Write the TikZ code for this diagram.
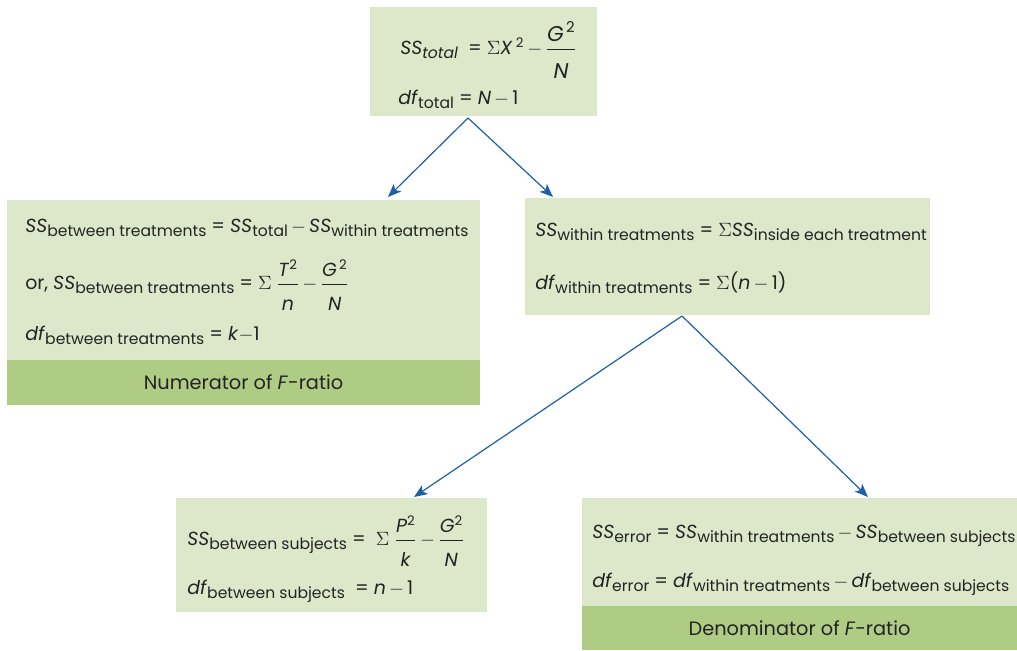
\documentclass[tikz,border=0pt]{standalone}
\usepackage{amsmath}
\usepackage{fontspec}
\setmainfont{Poppins}
\usetikzlibrary{arrows.meta}
\definecolor{lgreen}{RGB}{221,231,201}
\definecolor{dgreen}{RGB}{175,204,132}
\definecolor{arrblue}{RGB}{30,95,170}
\definecolor{txtc}{RGB}{35,35,35}
\newcommand{\sbs}[1]{\raisebox{-0.45ex}{\fontsize{11.7}{13}\selectfont #1}}
\newcommand{\iv}[1]{\textit{#1}}
\newcommand{\myfr}[2]{$\dfrac{\rule{0pt}{2.4ex}\text{#1}}{\rule{0pt}{2.3ex}\text{#2}}$}
\newcommand{\bigfr}[2]{$\dfrac{\rule{0pt}{2.6ex}\text{\fontsize{16}{18}\selectfont #1}}{\rule{0pt}{2.6ex}\text{\fontsize{16}{18}\selectfont #2}}$}
\newcommand{\msig}{$\Sigma$}
\newcommand{\mminus}{\,$-$\,}
\tikzset{
  box/.style={fill=lgreen, draw=none},
  band/.style={fill=dgreen, draw=none},
  txt/.style={anchor=base west, inner sep=0pt, text=txtc, font=\fontsize{14.2}{17}\selectfont},
  bandtxt/.style={anchor=center, inner sep=0pt, text=txtc, font=\fontsize{14.5}{17}\selectfont},
  arr/.style={draw=arrblue, line width=0.9pt, -{Stealth[length=10pt,width=8pt,inset=2.5pt]}}
}
\begin{document}
\begin{tikzpicture}[x=0.75pt,y=-0.75pt]
\useasboundingbox (0,0) rectangle (1017,650);
% boxes
\path[box] (370,7) rectangle (597,116) node[pos=0.5,inner sep=0] (top) {};
\path[box] (7,200) rectangle (480,360) node[pos=0.5,inner sep=0] (lbox) {};
\path[band] (7,360) rectangle (480,405) node[pos=0.5,inner sep=0] (lband) {};
\path[box] (525,198) rectangle (930,315) node[pos=0.5,inner sep=0] (rbox) {};
\path[box] (176,498) rectangle (487,612) node[pos=0.5,inner sep=0] (blbox) {};
\path[box] (582,498) rectangle (1017,606) node[pos=0.5,inner sep=0] (brbox) {};
\path[band] (582,606) rectangle (1017,650) node[pos=0.5,inner sep=0] (brband) {};
% top text
\node[txt] (t1) at (400,54) {\iv{SS}\sbs{\iv{total}}\ \ = \msig\iv{X}\,\textsuperscript{2}\mminus\bigfr{\iv{G}\textsuperscript{\,2}}{\iv{N}}};
\node[txt] (t2) at (398,104) {\iv{df}\sbs{total} = \iv{N}\mminus1};
% left text
\node[txt] (l1) at (25,232) {\iv{SS}\sbs{between treatments} = \iv{SS}\sbs{total}\mminus\iv{SS}\sbs{within treatments}};
\node[txt] (l2) at (25,289) {or, \iv{SS}\sbs{between treatments} = \msig\ \myfr{\iv{T}\textsuperscript{2}}{\iv{n}}\mminus\myfr{\iv{G}\textsuperscript{\,2}}{\iv{N}}};
\node[txt] (l3) at (25,340) {\iv{df}\sbs{between treatments} = \iv{k}$-$1};
\node[bandtxt] (l4) at (lband) {Numerator of \iv{F}-ratio};
% right text
\node[txt] (r1) at (535,236) {\iv{SS}\sbs{within treatments} = \msig\iv{SS}\sbs{inside each treatment}};
\node[txt] (r2) at (535,289) {\iv{df}\sbs{within treatments} = \msig(\iv{n}\mminus1)};
% bottom left text
\node[txt] (b1) at (187,545) {\iv{SS}\sbs{between subjects} = \ \msig\ \myfr{\iv{P}\textsuperscript{2}}{\iv{k}}\mminus\myfr{\iv{G}\textsuperscript{2}}{\iv{N}}};
\node[txt] (b2) at (187,594) {\iv{df}\sbs{between subjects}\ \ = \iv{n}\mminus1};
% bottom right text
\node[txt] (e1) at (592,538) {\iv{SS}\sbs{error} = \iv{SS}\sbs{within treatments}\mminus\iv{SS}\sbs{between subjects}};
\node[txt] (e2) at (592,587) {\iv{df}\sbs{error} = \iv{df}\sbs{within treatments}\mminus\iv{df}\sbs{between subjects}};
\node[bandtxt] (e3) at (brband) {Denominator of \iv{F}-ratio};
% connectors
\coordinate (s1) at (468,118);
\coordinate (e1a) at (388,197);
\coordinate (e1b) at (553,197);
\coordinate (s2) at (682,316);
\coordinate (e2a) at (414,497);
\coordinate (e2b) at (868,497);
\draw[arr] (s1) -- (e1a);
\draw[arr] (s1) -- (e1b);
\draw[arr] (s2) -- (e2a);
\draw[arr] (s2) -- (e2b);
\end{tikzpicture}
\end{document}
